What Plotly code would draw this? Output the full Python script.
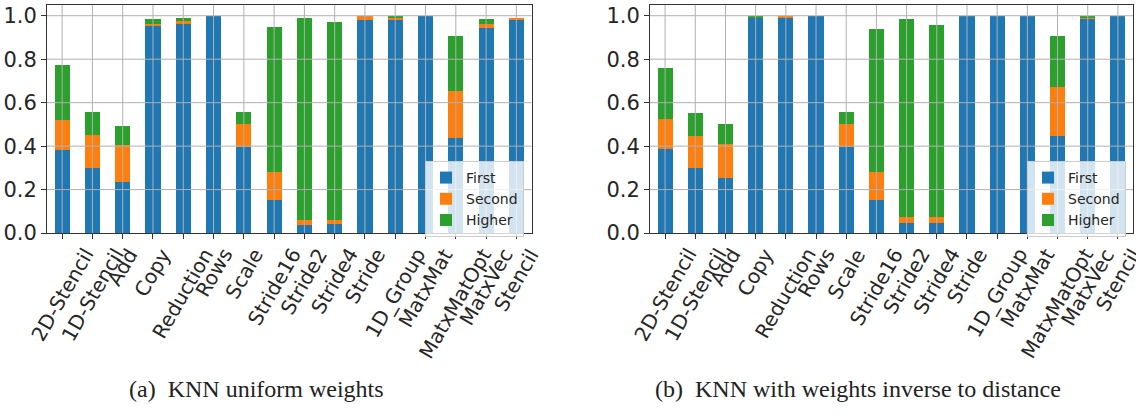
import plotly.graph_objects as go
from plotly.subplots import make_subplots

# Benchmark kernels (x categories)
kernels = ["2D-Stencil", "1D-Stencil", "Add", "Copy", "Reduction", "Rows", "Scale",
           "Stride16", "Stride2", "Stride4", "Stride", "1D_Group", "MatxMat",
           "MatxMatOpt", "MatxVec", "Stencil"]

# (a) KNN uniform weights: fraction per rank of prediction
uniform_first = [0.384, 0.298, 0.234, 0.955, 0.960, 1.000, 0.396, 0.152, 0.036, 0.042,
                 0.982, 0.982, 1.000, 0.438, 0.945, 0.982]
uniform_second = [0.138, 0.153, 0.172, 0.009, 0.018, 0.000, 0.108, 0.129, 0.022, 0.016,
                  0.018, 0.009, 0.000, 0.217, 0.019, 0.009]
uniform_higher = [0.253, 0.106, 0.088, 0.023, 0.013, 0.000, 0.053, 0.667, 0.933, 0.915,
                  0.000, 0.009, 0.000, 0.250, 0.020, 0.000]

# (b) KNN with weights inverse to distance
distance_first = [0.388, 0.301, 0.253, 0.994, 0.994, 1.000, 0.394, 0.152, 0.045, 0.045,
                  1.000, 1.000, 1.000, 0.446, 0.987, 1.000]
distance_second = [0.139, 0.144, 0.159, 0.000, 0.006, 0.000, 0.110, 0.129, 0.029, 0.029,
                   0.000, 0.000, 0.000, 0.224, 0.004, 0.000]
distance_higher = [0.232, 0.107, 0.088, 0.006, 0.000, 0.000, 0.053, 0.658, 0.913, 0.884,
                   0.000, 0.000, 0.000, 0.235, 0.009, 0.000]

series_names = ["First", "Second", "Higher"]
colors = ["#1f77b4", "#ff7f0e", "#2ca02c"]
y_ticks = [0.0, 0.2, 0.4, 0.6, 0.8, 1.0]
captions = ["(a)\u00a0 KNN uniform weights", "(b)\u00a0 KNN with weights inverse to distance"]

W, H = 1136, 417
FONT = "DejaVu Sans"

fig = make_subplots(rows=1, cols=2)
panels = [
    (1, "legend", [uniform_first, uniform_second, uniform_higher]),
    (2, "legend2", [distance_first, distance_second, distance_higher]),
]
xs = list(range(len(kernels)))
for col, leg, data in panels:
    for name, color, vals in zip(series_names, colors, data):
        fig.add_trace(go.Bar(x=xs, y=vals, name=name, marker_color=color,
                             marker_line_width=0, legend=leg), row=1, col=col)

# axes geometry in paper fractions
x_domains = [[47 / W, 531.5 / W], [650 / W, 1133 / W]]
y_domain = [(H - 240) / H, (H - 5) / H]

axis_common = dict(showline=True, mirror=True, linecolor="#333333", linewidth=1)
for i, dom in enumerate(x_domains, start=1):
    fig.update_xaxes(domain=dom, range=[-0.5, len(kernels) - 0.5], tickmode="array",
                     tickvals=xs, showticklabels=False, ticks="outside", ticklen=5,
                     tickcolor="#333333", showgrid=False, zeroline=False,
                     row=1, col=i, **axis_common)
    fig.update_yaxes(domain=y_domain, range=[0, 1.05], tickmode="array", tickvals=y_ticks,
                     tickformat=".1f", ticks="outside", ticklen=5, tickcolor="#333333",
                     tickfont=dict(family=FONT, size=21, color="#262626"),
                     showgrid=False, zeroline=False, row=1, col=i, **axis_common)

# grid drawn over the bars
grid_style = dict(color="#b0b0b0", width=1)
for col in (1, 2):
    for v in y_ticks[1:]:
        fig.add_hline(y=v, line=grid_style, layer="above", row=1, col=col)
    for x in xs:
        fig.add_vline(x=x, line=grid_style, layer="above", row=1, col=col)

annotations = []
for xref in ["x", "x2"]:
    for x, label in zip(xs, kernels):
        annotations.append(dict(x=x, xref=xref, y=(H - 250) / H, yref="paper",
                                text=label, textangle=-60, showarrow=False,
                                xanchor="center", yanchor="top", borderpad=0,
                                font=dict(family=FONT, size=20, color="#262626")))
for cx, text in zip([256 / W, 858 / W], captions):
    annotations.append(dict(x=cx, xref="paper", y=(H - 401) / H, yref="paper",
                            text=text, showarrow=False, xanchor="center",
                            yanchor="middle",
                            font=dict(family="Liberation Serif", size=24, color="#222222")))

legend_style = dict(bgcolor="rgba(255,255,255,0.8)", bordercolor="#cccccc", borderwidth=1,
                    font=dict(family=FONT, size=14, color="#262626"),
                    traceorder="normal",
                    xanchor="right", yanchor="bottom", xref="paper", yref="paper")

fig.update_layout(
    width=W, height=H, margin=dict(l=0, r=0, t=0, b=0),
    paper_bgcolor="white", plot_bgcolor="white",
    barmode="stack", bargap=0.5,
    font=dict(family=FONT, color="#262626"),
    annotations=annotations,
    legend=dict(x=524 / W, y=(H - 244) / H, **legend_style),
    legend2=dict(x=1126 / W, y=(H - 244) / H, **legend_style),
)

fig.write_html("out.html")
